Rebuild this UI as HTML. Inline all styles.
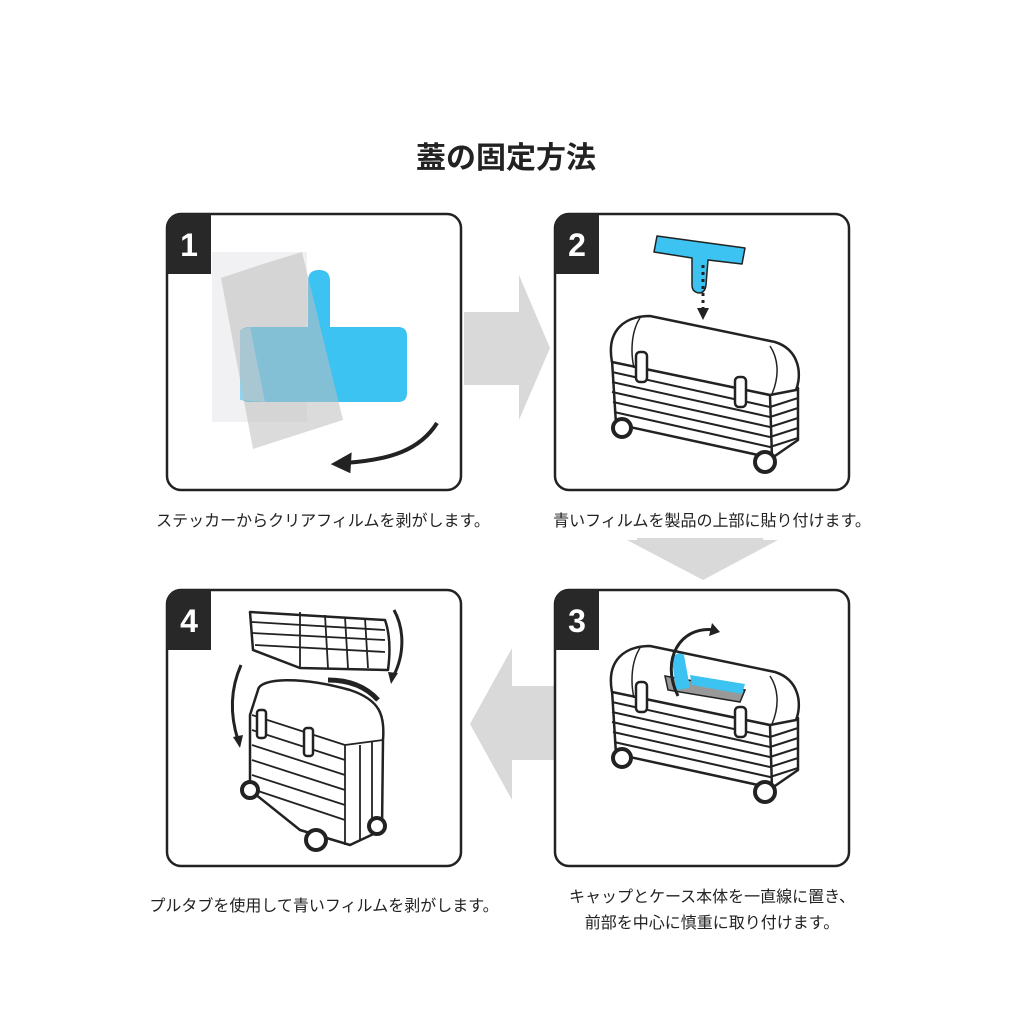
<!DOCTYPE html>
<html><head><meta charset="utf-8"><style>
html,body{margin:0;padding:0;background:#fff;}
body{width:1024px;height:1024px;position:relative;overflow:hidden;font-family:"Liberation Sans","Noto Sans CJK JP",sans-serif;}
.t{position:absolute;font-size:16px;color:#222;white-space:nowrap;text-align:center;}
</style></head><body>
<svg width="1024" height="1024" viewBox="0 0 1024 1024" style="position:absolute;left:0;top:0">
<defs>
<g id="case" fill="none" stroke="#222" stroke-width="2.5" stroke-linejoin="round">
  <path d="M612,360 L770,395 L798,388 L798,440 L772,458 L616,424 Z" fill="#fff"/>
  <path d="M612,372 L770,407 L798,398 M612,382 L770,417 L798,408 M612,392 L770,427 L798,418 M613,402 L770,437 L798,428 M614,412 L770,447 L798,438" stroke-width="2"/>
  <path d="M770,395 L772,458" />
  <path d="M612,362 C606,330 625,316 650,316 L775,342 C800,350 802,375 796,390 L770,395 Z" fill="#fff"/>
  <path d="M640,318 C632,330 630,350 634,368 M770,346 C778,358 780,375 772,394" stroke-width="1.5"/>
  <rect x="636" y="352" width="11" height="30" rx="4" fill="#fff"/>
  <rect x="735" y="377" width="11" height="30" rx="4" fill="#fff"/>
  <circle cx="622" cy="428" r="9" fill="#fff" stroke-width="4"/>
  <circle cx="765" cy="462" r="10" fill="#fff" stroke-width="4"/>
</g>
</defs>
<text x="506" y="168" text-anchor="middle" font-size="30" font-weight="bold" fill="#222" font-family="Liberation Sans, Noto Sans CJK JP, sans-serif">蓋の固定方法</text>

<!-- arrows -->
<path d="M464,312 L519,312 L519,275 L550,348 L519,420 L519,385 L464,385 Z" fill="#d9d9d9"/>
<path d="M637,538 L763,538 L763,540 L778,540 L703,580 L627,540 L637,540 Z" fill="#d9d9d9"/>
<path d="M555,686 L512,686 L512,648 L470,724 L512,800 L512,760 L555,760 Z" fill="#d9d9d9"/>

<!-- panels -->
<g fill="none" stroke="#222" stroke-width="2.5">
<rect x="167" y="214" width="294" height="276" rx="14"/>
<rect x="555" y="214" width="294" height="276" rx="14"/>
<rect x="167" y="590" width="294" height="276" rx="14"/>
<rect x="555" y="590" width="294" height="276" rx="14"/>
</g>
<g fill="#282828">
<path d="M181,214 L211,214 L211,274 L167,274 L167,228 Q167,214 181,214Z"/>
<path d="M569,214 L599,214 L599,274 L555,274 L555,228 Q555,214 569,214Z"/>
<path d="M181,590 L211,590 L211,650 L167,650 L167,604 Q167,590 181,590Z"/>
<path d="M569,590 L599,590 L599,650 L555,650 L555,604 Q555,590 569,590Z"/>
</g>
<g fill="#fff" font-size="32" font-weight="bold" text-anchor="middle" font-family="Liberation Sans, sans-serif">
<text x="189" y="256">1</text><text x="577" y="256">2</text>
<text x="189" y="632">4</text><text x="577" y="632">3</text>
</g>

<!-- panel 1 -->
<rect x="212" y="252" width="95" height="170" fill="#f1f1f3"/>
<path d="M308,281 Q308,270 319,270 Q330,270 330,281 L330,327 L398,327 Q407,327 407,336 L407,393 Q407,402 398,402 L249,402 Q240,402 240,393 L240,336 Q240,327 249,327 L308,327 Z" fill="#3cc3f1"/>
<path d="M240,330 L240,400 L265,402 L250,327Z" fill="#8fd3ee"/>
<path d="M221,278 L263,264 L302,252 L343,420 L253,449 Z" fill="#bdbdbd" opacity="0.55"/>
<path d="M437,423 C420,450 390,460 345,463" fill="none" stroke="#222" stroke-width="4"/>
<path d="M334,464 L350,455 L349,471 Z" fill="#222" stroke="#222" stroke-width="3"/>

<!-- panel 2 -->
<path d="M657,236 L745,248 L742,264 L708,260 L706,285 Q705,293 699,293 Q692,292 692,285 L692,258 L654,252 Z" fill="#3cc3f1" stroke="#222" stroke-width="1.5" stroke-linejoin="round"/>
<line x1="703" y1="265" x2="703" y2="308" stroke="#222" stroke-width="3" stroke-dasharray="3,4"/>
<path d="M697,308 L709,308 L703,320Z" fill="#222"/>
<use href="#case"/>

<!-- panel 3 -->
<use href="#case" transform="translate(0,330)"/>
<path d="M665,676 L745,690 L740,702 L668,690 Z" fill="#999" stroke="#222" stroke-width="1.5"/>
<path d="M690,675 L745,684 L742,694 L692,685 Z" fill="#3cc3f1"/>
<path d="M676,690 L672,660 Q676,650 684,655 L690,688 Z" fill="#3cc3f1"/>
<path d="M678,696 C660,660 680,625 715,630" fill="none" stroke="#222" stroke-width="3"/>
<path d="M712,623 L720,632 L709,636 Z" fill="#222"/>

<!-- panel 4 -->
<g fill="#fff" stroke="#222" stroke-width="2.5" stroke-linejoin="round">
<path d="M250,612 L385,620 Q392,640 388,670 L300,668 L253,650 Z"/>
<path d="M252,622 L385,630 M252,633 L385,640 M255,645 L385,652 M300,612 L300,668 M325,615 L328,668 M345,617 L348,668 M365,618 L368,668" stroke-width="1.8" fill="none"/>
<path d="M258,690 C260,678 300,676 350,690 C380,700 385,715 383,740 L382,830 L350,845 L300,830 L250,790 L250,715 Z"/>
<path d="M252,715 L345,745 L383,740 M345,745 L345,845 M252,730 L345,760 M252,745 L345,775 M252,760 L345,790 M252,775 L345,805 M255,790 L345,820 M360,745 L360,840 M372,742 L372,835" stroke-width="1.8" fill="none"/>
<rect x="257" y="710" width="9" height="28" rx="3"/>
<rect x="304" y="728" width="9" height="28" rx="3"/>
<circle cx="250" cy="790" r="8" stroke-width="4"/>
<circle cx="316" cy="840" r="10" stroke-width="4"/>
<circle cx="377" cy="826" r="8" stroke-width="4"/>
</g>
<path d="M328,680 Q360,680 378,700" fill="none" stroke="#222" stroke-width="5"/>
<path d="M394,610 C405,630 404,655 394,675" fill="none" stroke="#222" stroke-width="3"/>
<path d="M388,672 L398,673 L391,684Z" fill="#222"/>
<path d="M241,665 C230,690 230,715 238,740" fill="none" stroke="#222" stroke-width="3"/>
<path d="M233,737 L243,735 L240,748Z" fill="#222"/>
</svg>
<div class="t" style="left:123px;width:400px;top:507px">ステッカーからクリアフィルムを剥がします。</div>
<div class="t" style="left:512px;width:400px;top:507px">青いフィルムを製品の上部に貼り付けます。</div>
<div class="t" style="left:124px;width:400px;top:892px">プルタブを使用して青いフィルムを剥がします。</div>
<div class="t" style="left:512px;width:400px;top:885px;line-height:26px">キャップとケース本体を一直線に置き、<br>前部を中心に慎重に取り付けます。</div>
</body></html>
